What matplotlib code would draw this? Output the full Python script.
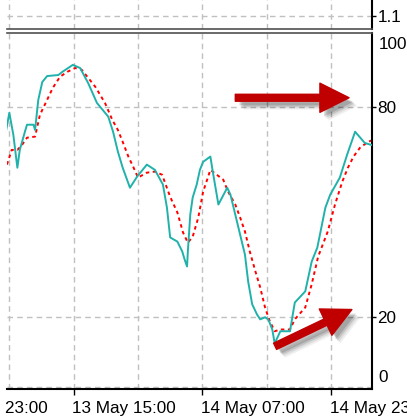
import matplotlib.pyplot as plt
import matplotlib.patheffects as pe

# hours since 13 May 07:00
main_hours = [-0.5, 0.0, 0.5, 1.0, 1.3, 2.0, 2.2, 3.0, 3.2, 3.6, 4.1, 4.7, 6.1, 6.6, 7.9, 8.8,
              9.8, 10.9, 12.3, 12.9, 13.5, 14.1, 15.0, 15.9, 17.1, 18.1, 19.1, 19.6, 20.0, 20.9,
              21.5, 21.8, 22.1, 22.2, 22.5, 22.8, 23.3, 23.7, 24.1, 25.0, 25.3, 26.0, 27.1, 27.5,
              28.1, 28.7, 29.3, 29.7, 30.2, 30.8, 31.2, 31.8, 32.2, 32.7, 33.0, 33.7, 34.9, 35.5,
              36.8, 37.6, 38.3, 39.3, 39.9, 41.1, 42.0, 43.0, 44.2, 44.9, 45.3]
main_values = [72.0, 78.3, 72.0, 62.6, 67.7, 73.4, 74.9, 74.9, 73.4, 82.0, 87.1, 88.8, 89.1, 90.0, 92.0, 91.1,
               86.8, 81.1, 77.2, 72.9, 67.2, 62.6, 56.9, 60.1, 63.5, 62.0, 57.8, 51.2, 42.7, 41.5,
               38.7, 36.4, 34.4, 38.7, 49.2, 54.1, 57.8, 62.0, 64.3, 65.8, 61.5, 52.1, 56.9, 54.9,
               49.2, 43.5, 37.8, 30.1, 23.6, 20.7, 19.3, 19.9, 19.3, 16.4, 12.4, 15.9, 15.9, 24.1,
               27.3, 35.8, 39.8, 51.2, 54.9, 59.8, 66.3, 72.9, 69.7, 69.2, 69.0]

signal_hours = [-0.3, 0.3, 1.0, 1.6, 2.2, 3.2, 3.8, 4.7, 5.4, 6.3, 7.2, 8.2, 9.0, 9.8, 10.7, 11.9,
                12.8, 13.5, 14.1, 14.8, 15.4, 16.0, 17.1, 18.1, 19.0, 20.0, 20.9, 21.6, 22.2, 22.8,
                23.5, 24.1, 24.6, 25.0, 25.8, 26.6, 27.2, 28.1, 28.7, 29.3, 29.9, 30.6, 31.2, 31.8,
                32.4, 33.0, 33.7, 34.9, 35.5, 36.8, 37.6, 38.4, 39.6, 40.5, 41.4, 42.1, 42.8, 43.6,
                44.6, 45.3]
signal_values = [63.5, 67.7, 67.7, 69.2, 71.2, 71.5, 77.7, 82.0, 85.4, 88.6, 90.0, 91.1, 90.6, 88.3, 85.7, 81.1,
                 76.3, 73.4, 70.0, 65.8, 62.9, 59.8, 61.2, 61.5, 60.6, 54.3, 49.8, 44.1, 41.2, 42.9,
                 48.4, 55.8, 59.2, 62.0, 60.6, 59.2, 55.8, 52.1, 48.4, 44.4, 38.7, 33.0, 28.4, 22.7,
                 18.7, 15.9, 16.4, 16.4, 19.3, 22.7, 29.3, 37.2, 44.4, 52.1, 58.6, 62.6, 65.8, 68.3,
                 70.0, 70.6]

tick_hours = [-8, 8, 24, 40]
tick_labels = ['12 May 23:00', '13 May 15:00', '14 May 07:00', '14 May 23:00']
grid_hours = [0, 8, 16, 24, 32, 40]
levels = [20, 80]

# annotation arrows (tail, tip) in data units
arrow_top = ((28.1, 82.6), (42.25, 82.6))
arrow_low = ((33.05, 11.6), (42.6, 22.1))

W, H = 407, 419
plt.rcParams['font.family'] = ['Liberation Sans', 'DejaVu Sans']
fig = plt.figure(figsize=(W / 100, H / 100), dpi=100)

x0, x1 = 7 / W, 372 / W
ax = fig.add_axes([x0, 1 - 389 / H, x1 - x0, (389 - 33) / H])
axt = fig.add_axes([x0, 1 - 29.5 / H, x1 - x0, 54 / H])

xlim = (-0.29, 45.1)
grid_kw = dict(color='#c0c0c0', lw=1.0, ls=(0, (4, 3)), zorder=0)
fs = 12.3

# main panel
ax.plot(main_hours, main_values, color='#20b2aa', lw=1.4, zorder=3)
ax.plot(signal_hours, signal_values, color='#ff0000', lw=1.4, ls=(0, (1.8, 1.8)), zorder=2)
for g in grid_hours:
    ax.axvline(g, **grid_kw)
for lv in levels:
    ax.axhline(lv, **grid_kw)
ax.axhline(0, **grid_kw)
ax.set_xlim(*xlim)
ax.set_ylim(-0.6, 101.1)

ax.yaxis.tick_right()
ax.set_yticks(levels)
ax.set_yticklabels([str(v) for v in levels])
ax.tick_params(axis='y', length=3, pad=1, labelsize=fs, width=1)
ax.annotate('100', xy=(1.0, 100), xycoords=ax.get_yaxis_transform(), xytext=(4.5, 0),
            textcoords='offset points', ha='left', va='top', fontsize=fs, annotation_clip=False)
ax.annotate('0', xy=(1.0, 0.4), xycoords=ax.get_yaxis_transform(), xytext=(4.5, 0),
            textcoords='offset points', ha='left', va='bottom', fontsize=fs, annotation_clip=False)

ax.set_xticks(tick_hours[1:])
ax.set_xticklabels([])
ax.tick_params(axis='x', length=4, width=1)
for h, lab in zip(tick_hours, tick_labels):
    ax.text(h - 0.15, -0.035, lab, transform=ax.get_xaxis_transform(), ha='left', va='top',
            fontsize=fs, clip_on=False)

ax.spines['left'].set_visible(False)
ax.spines['right'].set_linewidth(1.5)
ax.spines['bottom'].set_linewidth(1.5)
ax.spines['top'].set_color('#505050')
ax.spines['top'].set_linewidth(1.2)

shadow = [pe.SimplePatchShadow(offset=(o, -o), shadow_rgbFace='k', alpha=a)
          for o, a in [(6, 0.06), (5, 0.08), (4, 0.12), (3, 0.15)]] + [pe.Normal()]
for tail, tip in [arrow_top, arrow_low]:
    ax.annotate('', xy=tip, xytext=tail,
                arrowprops=dict(arrowstyle='simple,head_length=2.1,head_width=2.1,tail_width=0.5',
                                mutation_scale=10, color='#c00000', shrinkA=0, shrinkB=0,
                                path_effects=shadow), zorder=5)

# top indicator strip
axt.set_xlim(*xlim)
axt.set_ylim(1.05, 1.25)
for g in grid_hours:
    axt.axvline(g, **grid_kw)
axt.axhline(1.1, **grid_kw)
axt.yaxis.tick_right()
axt.set_yticks([1.1])
axt.set_yticklabels(['1.1'])
axt.tick_params(axis='y', length=3, pad=1, labelsize=fs, width=1)
axt.set_xticks([])
axt.spines['left'].set_visible(False)
axt.spines['top'].set_visible(False)
axt.spines['right'].set_linewidth(1.5)
axt.spines['bottom'].set_color('#505050')
axt.spines['bottom'].set_linewidth(1.2)

fig.savefig('out.png', dpi=100, facecolor='white')
